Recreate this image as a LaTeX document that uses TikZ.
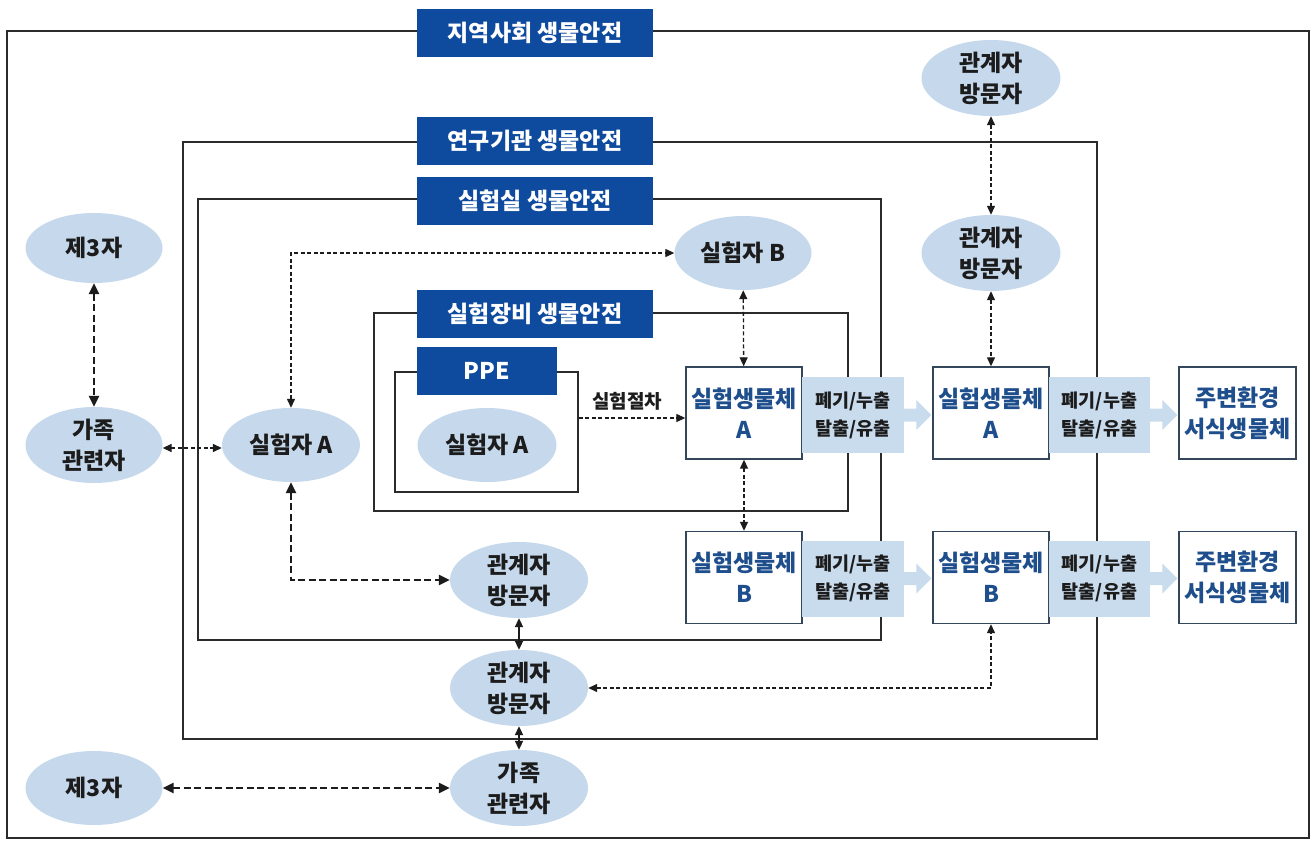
\documentclass[tikz,border=0pt]{standalone}
\usepackage{fontspec}
\setmainfont{Noto Sans CJK KR}
\usetikzlibrary{shapes.geometric,arrows.meta,fit,calc}

\definecolor{ellblue}{HTML}{C6D9EC}
\definecolor{ttlblue}{HTML}{0E4A9E}
\definecolor{orgtext}{HTML}{1F4E8C}
\definecolor{flowblue}{HTML}{C9DCEE}
\definecolor{framegray}{HTML}{2B2B2B}
\definecolor{boxline}{HTML}{34465A}
\definecolor{ink}{HTML}{1C1C1C}

\tikzset{
  frame/.style={draw=framegray, line width=1.7pt, inner sep=0pt},
  ttl/.style={fill=ttlblue, text=white, font=\bfseries\fontsize{23}{27}\selectfont,
    minimum width=236pt, minimum height=48pt, inner sep=0pt},
  party/.style={ellipse, fill=ellblue, text=ink, font=\bfseries\fontsize{23}{31}\selectfont,
    align=center, inner sep=0pt},
  organism/.style={draw=boxline, line width=1.4pt, fill=white, text=orgtext,
    font=\bfseries\fontsize{23}{31}\selectfont, align=center,
    minimum width=116pt, minimum height=92pt, inner sep=0pt},
  release/.style={fill=flowblue, text=ink, font=\bfseries\fontsize{18.5}{28}\selectfont,
    align=center, minimum width=102pt, minimum height=76pt, inner sep=0pt},
  twoheads/.style={{Triangle[length=9pt,width=8pt]}-{Triangle[length=9pt,width=8pt]}},
  onehead/.style={-{Triangle[length=9pt,width=8pt]}},
  thinlink/.style={draw=ink, line width=1.3pt, dash pattern=on 4pt off 2.5pt},
  heavylink/.style={draw=ink, line width=2.3pt, dash pattern=on 7pt off 3.5pt,
    {Triangle[length=11pt,width=10pt]}-{Triangle[length=11pt,width=10pt]}},
  solidlink/.style={draw=ink, line width=2pt,
    {Triangle[length=9pt,width=8pt]}-{Triangle[length=9pt,width=8pt]}},
}

% light-blue release arrow from a label block to the next organism box
\newcommand\spillarrow[2]{%
  \fill[flowblue] ($(#1.east)+(0,-6.5)$) -- ($(#1.east -| #2.west)+(-16,-6.5)$)
    -- ($(#1.east -| #2.west)+(-16,-15)$) -- ($(#1.east -| #2.west)+(-1,0)$)
    -- ($(#1.east -| #2.west)+(-16,15)$) -- ($(#1.east -| #2.west)+(-16,6.5)$)
    -- ($(#1.east)+(0,6.5)$) -- cycle;}

\begin{document}
\begin{tikzpicture}[x=1pt,y=-1pt]
\useasboundingbox (0,0) rectangle (1315,842);
\fill[white] (0,0) rectangle (1315,842);

% nested safety levels
\node[frame, fit={(7,31) (1309,838)}] (community) {};
\node[frame, fit={(183,142) (1097,739)}] (institute) {};
\node[frame, fit={(198,199) (881,640)}] (lab) {};
\node[frame, fit={(374,313) (848,511)}] (equip) {};
\node[frame, fit={(395,372) (578,492)}] (ppe) {};

% level titles
\node[ttl] (tcommunity) at (535,33) {지역사회 생물안전};
\node[ttl] (tinstitute) at (535,141) {연구기관 생물안전};
\node[ttl] (tlab) at (535,201) {실험실 생물안전};
\node[ttl] (tequip) at (535,314) {실험장비 생물안전};
\node[ttl, minimum width=140pt] (tppe) at (487,371) {PPE};

% organisms and surroundings
\node[organism] (oa1) at (744,413) {실험생물체\\A};
\node[organism] (ob1) at (744,577.5) {실험생물체\\B};
\node[organism] (oa2) at (991,413) {실험생물체\\A};
\node[organism] (ob2) at (991,577.5) {실험생물체\\B};
\node[organism, minimum width=117pt] (enva) at (1237.5,413) {주변환경\\서식생물체};
\node[organism, minimum width=117pt] (envb) at (1237.5,577.5) {주변환경\\서식생물체};

% release paths
\node[release] (ra1) at (853,415) {폐기/누출\\탈출/유출};
\node[release] (rb1) at (853,578.5) {폐기/누출\\탈출/유출};
\node[release, minimum width=101pt] (ra2) at (1099.5,415) {폐기/누출\\탈출/유출};
\node[release, minimum width=101pt] (rb2) at (1099.5,578.5) {폐기/누출\\탈출/유출};
\spillarrow{ra1}{oa2}
\spillarrow{rb1}{ob2}
\spillarrow{ra2}{enva}
\spillarrow{rb2}{envb}

% people
\node[party, minimum width=139pt, minimum height=76pt] (vt) at (991,78) {관계자\\방문자};
\node[party, minimum width=139pt, minimum height=76pt] (vm) at (991,253) {관계자\\방문자};
\node[party, minimum width=137pt, minimum height=74pt] (sb) at (743,253) {실험자 B};
\node[party, minimum width=137pt, minimum height=70pt] (t3a) at (94,248) {제3자};
\node[party, minimum width=137pt, minimum height=76pt] (fa) at (94,445) {가족\\관련자};
\node[party, minimum width=138pt, minimum height=74pt] (ea) at (291,445) {실험자 A};
\node[party, minimum width=139pt, minimum height=74pt] (ei) at (487,445) {실험자 A};
\node[party, minimum width=138pt, minimum height=76pt] (vl) at (519,580) {관계자\\방문자};
\node[party, minimum width=138pt, minimum height=76pt] (vr) at (519,688) {관계자\\방문자};
\node[party, minimum width=138pt, minimum height=76pt] (fb) at (519,788) {가족\\관련자};
\node[party, minimum width=137pt, minimum height=74pt] (t3b) at (94,788) {제3자};

% procedure arrow
\coordinate (procend) at ([yshift=-5pt]oa1.west);
\draw[thinlink, onehead] (ppe.east |- procend) -- (procend);
\node[font=\bfseries\fontsize{19}{23}\selectfont, text=ink] (proc) at (627,401) {실험절차};

% interactions
\draw[thinlink, twoheads] (vt) -- (vm);
\draw[thinlink, twoheads] (vm) -- (oa2);
\draw[thinlink, twoheads] (sb) -- (oa1);
\draw[thinlink, twoheads] (oa1) -- (ob1);
\draw[thinlink, twoheads] (ea.north) |- (sb.west);
\draw[thinlink, twoheads] (vr.east) -| (ob2.south);
\draw[thinlink, line width=1.6pt, twoheads] (fa.east |- 0,448) -- (ea.west |- 0,448);
\draw[heavylink] (t3a) -- (fa);
\draw[heavylink] (ea.south) |- (vl.west);
\draw[heavylink] (t3b) -- (fb);
\draw[solidlink] (vl) -- (vr);
\draw[solidlink] (vr) -- (fb);
\end{tikzpicture}
\end{document}
